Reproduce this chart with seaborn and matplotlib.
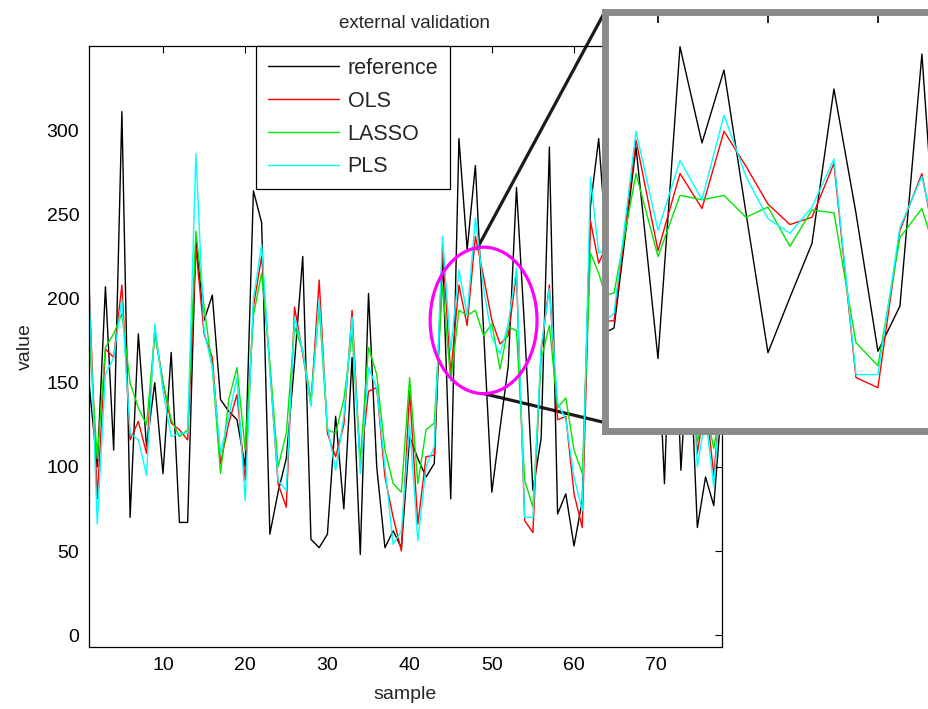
import numpy as np
import pandas as pd
import matplotlib
matplotlib.use("Agg")
import matplotlib.pyplot as plt
import seaborn as sns
from matplotlib.patches import Ellipse, ConnectionPatch

# data
sample = list(range(1, 79))

reference = [150, 100, 207, 110, 311, 70, 179, 112, 150, 96,
             168, 67, 67, 235, 187, 202, 140, 133, 128, 100,
             264, 245, 60, 85, 105, 162, 225, 57, 52, 60,
             130, 75, 165, 48, 203, 100, 52, 62, 52, 118,
             105, 94, 102, 226, 81, 295, 229, 279, 181, 85,
             123, 160, 266, 181, 86, 117, 290, 72, 84, 53,
             80, 255, 295, 228, 180, 240, 160, 130, 240, 200,
             90, 230, 98, 180, 64, 94, 77, 140]

ols = [209, 81, 170, 165, 208, 116, 127, 108, 181, 150,
       126, 122, 116, 230, 179, 165, 102, 126, 143, 92,
       195, 225, 159, 90, 76, 195, 167, 137, 211, 120,
       106, 125, 193, 100, 145, 147, 94, 70, 50, 145,
       66, 106, 107, 231, 155, 208, 184, 237, 213, 187,
       173, 178, 215, 68, 61, 169, 208, 128, 130, 84,
       64, 246, 221, 232, 200, 230, 170, 150, 215, 190,
       140, 200, 150, 180, 108, 140, 95, 150]

lasso = [180, 105, 171, 179, 191, 150, 135, 125, 179, 150,
         128, 118, 122, 240, 195, 159, 96, 140, 159, 110,
         190, 215, 162, 100, 120, 183, 169, 140, 195, 122,
         120, 140, 179, 104, 171, 155, 110, 90, 85, 153,
         90, 122, 126, 208, 151, 193, 190, 193, 178, 185,
         158, 183, 181, 92, 76, 164, 184, 135, 141, 110,
         96, 227, 215, 199, 190, 200, 180, 165, 195, 185,
         160, 185, 160, 170, 115, 135, 111, 140]

pls = [207, 66, 155, 165, 199, 120, 116, 95, 185, 145,
       118, 120, 120, 286, 181, 159, 108, 130, 153, 80,
       200, 232, 157, 92, 86, 189, 169, 136, 199, 124,
       98, 130, 189, 96, 159, 147, 100, 54, 62, 125,
       56, 100, 112, 237, 169, 217, 190, 248, 206, 177,
       167, 185, 218, 70, 70, 171, 206, 138, 128, 94,
       74, 272, 227, 229, 210, 235, 165, 145, 225, 195,
       135, 210, 145, 185, 100, 130, 88, 155]

models = ["reference", "OLS", "LASSO", "PLS"]
colors = ["black", "#ff0000", "#00e600", "#00ffff"]

# zoomed region (ellipse in the main plot, limits of the inset)
zoom_center = (49.0, 187)
zoom_size = (13.0, 87)
inset_xlim = (42.59, 58.05)
inset_ylim = (31.3, 319.2)

df = pd.DataFrame({
    "sample": sample * 4,
    "value": reference + ols + lasso + pls,
    "model": np.repeat(models, len(sample)),
})

sns.set_style("white")
plt.rcParams["font.family"] = ["Liberation Sans", "DejaVu Sans"]

W, H = 929, 709
fig = plt.figure(figsize=(W / 100, H / 100), dpi=100)
ax = fig.add_axes([89 / W, 1 - 647 / H, (722 - 89) / W, (647 - 46) / H])

sns.lineplot(data=df, x="sample", y="value", hue="model", hue_order=models,
             palette=colors, linewidth=1.0, ax=ax, estimator=None, sort=False)

ax.set_xlim(1, 78)
ax.set_ylim(-7, 350)
ax.set_xticks(range(10, 71, 10))
ax.set_yticks(range(0, 301, 50))
ax.tick_params(direction="in", top=True, right=True, length=5, width=0.8,
               labelsize=14, pad=7, colors="black")
for s in ax.spines.values():
    s.set_color("black")
    s.set_linewidth(0.9)
ax.set_title("external validation", fontsize=13.5, pad=13, x=0.515)
ax.set_xlabel("sample", fontsize=14, labelpad=9)
ax.set_ylabel("value", fontsize=14, labelpad=9)

leg = ax.legend(loc="upper left", bbox_to_anchor=(0.264, 1.0), borderaxespad=0,
                fontsize=15.5, handlelength=3.3, handletextpad=0.4,
                labelspacing=0.55, borderpad=0.55, fancybox=False,
                edgecolor="black", framealpha=1)
leg.get_frame().set_linewidth(0.9)
for line in leg.get_lines():
    line.set_linewidth(1.0)

ax.add_patch(Ellipse(zoom_center, zoom_size[0], zoom_size[1], fill=False,
                     edgecolor="#ff00ff", linewidth=2.3, zorder=5))

# inset with the zoomed samples
ins = fig.add_axes([605 / W, 1 - 431 / H, (945 - 605) / W, (431 - 11.5) / H])
sns.lineplot(data=df, x="sample", y="value", hue="model", hue_order=models,
             palette=colors, linewidth=1.0, ax=ins, estimator=None, sort=False,
             legend=False)
ins.set_xlim(*inset_xlim)
ins.set_ylim(*inset_ylim)
ins.set_xticks([45, 50, 55])
ins.set_yticks(range(50, 301, 50))
ins.tick_params(direction="in", top=True, right=False, length=8, width=1.2,
                labelbottom=False, labelleft=False, colors="black")
ins.set_xlabel("")
ins.set_ylabel("")
for s in ins.spines.values():
    s.set_color("#8a8a8a")
    s.set_linewidth(5)

# connector lines from the ellipse to the inset
top_pt = (48.2, 229.6)
bottom_pt = (49.0, 143.5)
for pa, pb in [(top_pt, (0, 1)), (bottom_pt, (0, 0.02))]:
    con = ConnectionPatch(xyA=pa, coordsA="data", axesA=ax,
                          xyB=pb, coordsB="axes fraction", axesB=ins,
                          color="#1a1a1a", linewidth=2.3)
    ax.add_artist(con)

fig.savefig("out.png", dpi=100)
